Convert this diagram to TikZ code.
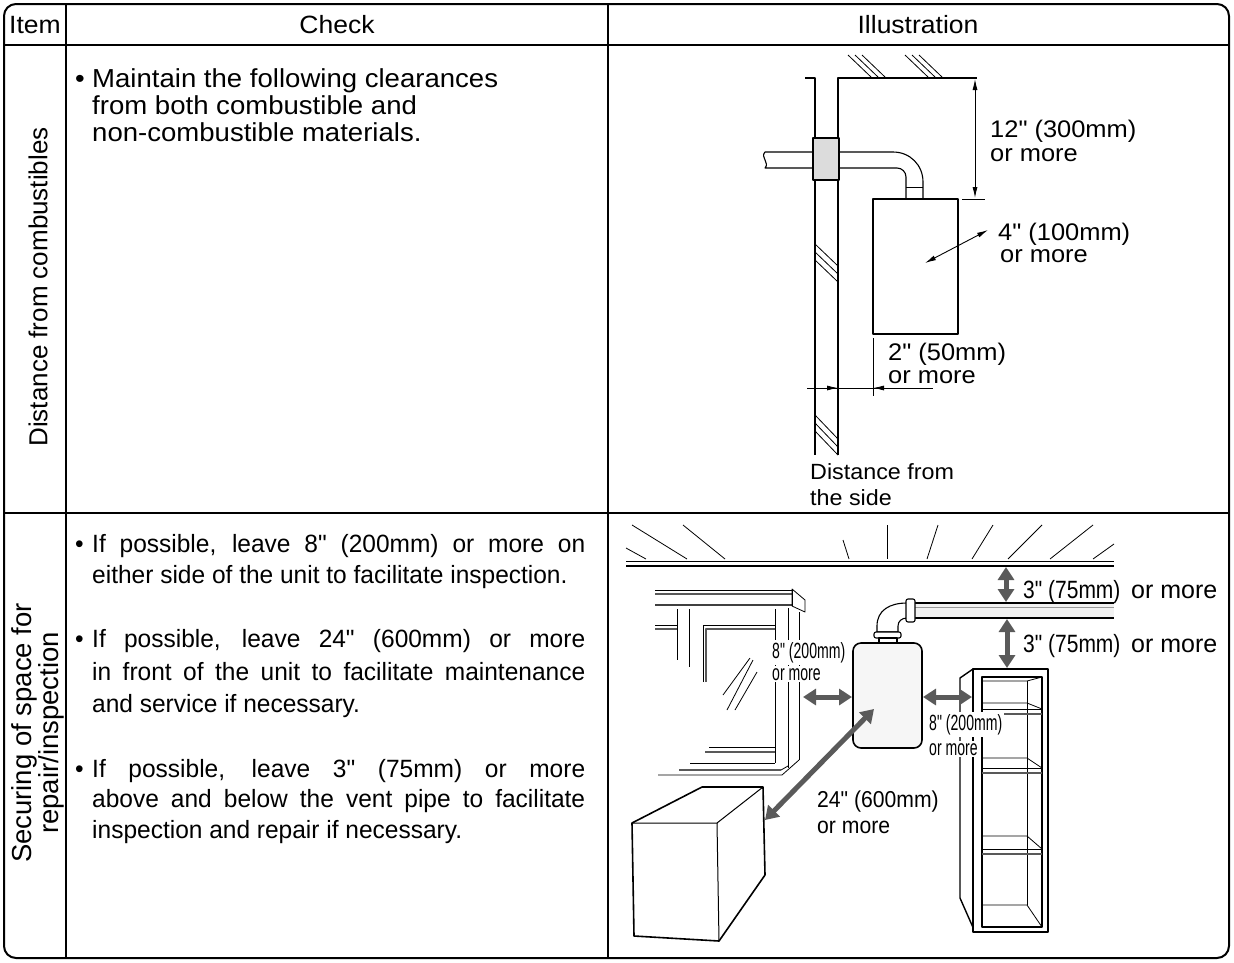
\documentclass[tikz,border=0pt]{standalone}
\usepackage{fontspec}
\newfontfamily\msans{Liberation Sans}[FakeStretch=1.06]
\newfontfamily\bsans{Liberation Sans}[FakeStretch=0.98]
\newfontfamily\plainsans{Liberation Sans}
\newfontfamily\fontA{Liberation Sans}[FakeStretch=0.64]
\newfontfamily\fontC{Liberation Sans}[FakeStretch=0.84]
\newfontfamily\fontD{Liberation Sans}[FakeStretch=0.92]
\usetikzlibrary{arrows.meta}
\definecolor{arrgray}{HTML}{5A5A5A}
\definecolor{collargray}{HTML}{DCDCDC}
\definecolor{heatfill}{HTML}{F6F6F6}
\begin{document}
\begin{tikzpicture}[x=1pt,y=-1pt,line join=round,
  ln/.style={line width=1.1pt},
  tn/.style={line width=0.8pt},
  gl/.style={line width=1.6pt, draw=black!65},
  lbl/.style={inner sep=0pt, anchor=base west},
  hdr/.style={inner sep=0pt, font=\msans\fontsize{25}{28}\selectfont},
  toptxt/.style={lbl, font=\msans\fontsize{26}{28}\selectfont},
  bottxt/.style={lbl, font=\bsans\fontsize{25}{28}\selectfont},
  illtxt/.style={lbl, font=\msans\fontsize{24}{26}\selectfont},
  thinarr/.style={line width=0.9pt, {Latex[length=11pt,width=5pt]}-{Latex[length=11pt,width=5pt]}},
  fatarr/.style={line width=5pt, draw=arrgray, {Triangle[length=13pt,width=16pt]}-{Triangle[length=13pt,width=16pt]}},
]
\useasboundingbox (0,0) rectangle (1234,962);
\fill[white] (0,0) rectangle (1234,962);

% ---------- table frame ----------
\draw[line width=2pt, rounded corners=12pt] (4,4) rectangle (1229,958);
\draw[line width=1.5pt] (4,45) -- (1229,45);
\draw[line width=1.5pt] (4,513) -- (1229,513);
\draw[line width=1.5pt] (66,4) -- (66,958);
\draw[line width=1.5pt] (608,4) -- (608,958);

% ---------- headers ----------
\node[hdr] (hitem) at (35,25) {Item};
\node[hdr] (hcheck) at (337,25) {Check};
\node[hdr] (hill) at (918,25) {Illustration};

% ---------- item labels ----------
\node[inner sep=0pt, rotate=90, font=\plainsans\fontsize{26}{28}\selectfont] (item1) at (38,287) {Distance from combustibles};
\node[inner sep=0pt, rotate=90, align=center, font=\plainsans\fontsize{27.5}{23}\selectfont] (item2) at (38,733) {Securing of space for\\repair/inspection};

% ---------- check text, row 1 ----------
\node[toptxt] (b1) at (75,87) {•};
\node[toptxt] (t1) at (92,87) {Maintain the following clearances};
\node[toptxt] (t2) at (92,114) {from both combustible and};
\node[toptxt] (t3) at (92,141) {non-combustible materials.};

% ---------- check text, row 2 ----------
\node[bottxt] (c1) at (75,552) {•};
\node[bottxt] (c1a) at (92,552) {\makebox[493pt][s]{If possible, leave 8" (200mm) or more on}};
\node[bottxt] (c1b) at (92,583) {either side of the unit to facilitate inspection.};
\node[bottxt] (c2) at (75,647) {•};
\node[bottxt] (c2a) at (92,647) {\makebox[493pt][s]{If possible, leave 24" (600mm) or more}};
\node[bottxt] (c2b) at (92,680) {\makebox[493pt][s]{in front of the unit to facilitate maintenance}};
\node[bottxt] (c2c) at (92,712) {and service if necessary.};
\node[bottxt] (c3) at (75,777) {•};
\node[bottxt] (c3a) at (92,777) {\makebox[493pt][s]{If possible, leave 3" (75mm) or more}};
\node[bottxt] (c3b) at (92,807) {\makebox[493pt][s]{above and below the vent pipe to facilitate}};
\node[bottxt] (c3c) at (92,838) {inspection and repair if necessary.};

% =========== top illustration ===========
\foreach \dx in {0,7,14}{
  \draw[tn] (848+\dx,55) -- (871+\dx,77);
  \draw[tn] (905+\dx,55) -- (928+\dx,77);
}
\draw[ln] (838,455) -- (838,78) -- (977,78);
\draw[ln] (805,78) -- (815,78) -- (815,455);
\foreach \dy in {0,8,16}{
  \draw[tn] (815,244+\dy) -- (838,266+\dy);
}
\begin{scope}
\clip (815,400) rectangle (838,455);
\foreach \dy in {0,8,16}{
  \draw[tn] (815,415+\dy) -- (838,439+\dy);
}
\end{scope}
\draw[ln] (813,152) -- (765,152) .. controls (760,157) and (770,163) .. (765,168) -- (813,168);
\draw[ln] (839,152) -- (893,152) .. controls (910,152) and (923,165) .. (923,182) -- (923,199);
\draw[ln] (839,168) -- (897,168) .. controls (902,168) and (906,172) .. (906,177) -- (906,199);
\draw[tn] (906,187) -- (923,187);
\draw[ln, fill=collargray] (813,138) rectangle (839,180);
\draw[ln, fill=white] (873,199) rectangle (958,334);
\draw[tn] (962,199) -- (985,199);
\coordinate (d12a) at (975,79);
\coordinate (d12b) at (975,198);
\draw[thinarr] (d12a) -- (d12b);
\node[illtxt] (l12a) at (990,137) {12" (300mm)};
\node[illtxt] (l12b) at (990,161) {or more};
\coordinate (d4a) at (925,263);
\coordinate (d4b) at (988,230);
\draw[thinarr] (d4a) -- (d4b);
\node[illtxt] (l4a) at (998,240) {4" (100mm)};
\node[illtxt] (l4b) at (1000,262) {or more};
\draw[tn] (873,338) -- (873,396);
\draw[tn] (807,388) -- (933,388);
\coordinate (d2l) at (838,388);
\coordinate (d2r) at (873,388);
\draw[tn, -{Latex[length=11pt,width=5pt]}] (824,388) -- (d2l);
\draw[tn, -{Latex[length=11pt,width=5pt]}] (887,388) -- (d2r);
\node[illtxt] (l2a) at (888,360) {2" (50mm)};
\node[illtxt] (l2b) at (888,383) {or more};
\node[lbl, font=\msans\fontsize{22}{26}\selectfont] (ds1) at (810,479) {Distance from};
\node[lbl, font=\msans\fontsize{22}{26}\selectfont] (ds2) at (810,505) {the side};

% =========== bottom illustration ===========
\draw[tn] (626,561) -- (1114,561);
\draw[line width=1.8pt] (626,566) -- (1114,566);
\foreach \a/\b/\c/\d in {632/525/687/559, 683/525/725/559, 626/548/646/559, 843/540/849/559,
   887/525/887/559, 938/525/927/559, 993/525/972/559, 1042/525/1008/559, 1093/525/1050/559, 1114/544/1093/559}{
  \draw[tn] (\a,\b) -- (\c,\d);
}
\draw[tn] (655,590) -- (792,590);
\draw[gl, line width=1.2pt] (655,594) -- (792,594);
\draw[line width=2pt, draw=black!75] (655,605) -- (792,605);
\draw[tn] (792,589) -- (805,600) -- (805,612) -- (792,606) -- cycle;
\draw[tn] (792,589) -- (792,606);
\draw[tn] (677,609) -- (677,660);
\draw[tn] (689,609) -- (689,667);
\draw[tn] (655,625) -- (677,625);
\draw[gl, line width=1.2pt] (655,629) -- (677,629);
\draw[tn] (703,682) -- (703,625) -- (775,625);
\draw[gl] (706,682) -- (706,629) -- (775,629);
\draw[tn] (775,609) -- (775,763);
\draw[tn] (788,608) -- (788,768);
\draw[tn] (799,612) -- (799,760);
\draw[tn] (709,747) -- (775,747);
\draw[gl] (705,752) -- (775,752);
\draw[tn] (690,763) -- (775,763);
\draw[gl] (679,770) -- (781,770);
\draw[tn] (658,775) -- (782,775) -- (799,760);
\draw[tn] (781,770) -- (788,766);
\draw[tn] (723,695) -- (750,658);
\draw[tn] (727,710) -- (753,660);
\draw[tn] (735,710) -- (757,672);
% cube
\draw[line width=1.6pt, fill=white] (632,823) -- (702,787) -- (763,787) -- (765,875) -- (719,941) -- (634,936) -- cycle;
\draw[line width=1pt] (632,823) -- (717,823) -- (763,787);
\draw[line width=1pt] (717,823) -- (719,941);
% cabinet
\draw[line width=1.4pt] (973,669) -- (960,678) -- (960,898) -- (975,932);
\draw[line width=1.8pt, fill=white] (973,669) rectangle (1048,932);
\draw[line width=1.2pt] (982,677) rectangle (1042,927);
\draw[tn] (1027,681) -- (1027,905);
\draw[tn] (983,681) -- (1027,681) -- (1042,677);
\foreach \yb/\yf in {703/709, 758/768, 836/849}{
  \draw[tn] (982,\yb) -- (1027,\yb) -- (1042,\yf);
  \draw[tn] (982,\yf) -- (1042,\yf);
  \draw[gl, line width=1.2pt] (982,\yf+5) -- (1042,\yf+5);
}
\draw[tn] (982,905) -- (1027,905) -- (1042,927);
% vent pipe
\fill[black!5] (915,603) rectangle (1114,618);
\draw[line width=2pt] (915,603) -- (1114,603);
\draw[line width=0.6pt, draw=black!40] (915,607) -- (1114,607);
\draw[line width=1.6pt] (915,618) -- (1114,618);
\draw[ln, fill=white] (907,603) .. controls (890,603) and (877,610) .. (877,626) -- (877,632) -- (898,632) -- (898,626) .. controls (898,621) and (902,618) .. (907,618) -- cycle;
\draw[ln, fill=white, rounded corners=2pt] (906,599) rectangle (915,622);
\draw[ln, fill=white, rounded corners=2pt] (874,632) rectangle (901,638);
\draw[ln, fill=white] (879,638) rectangle (897,643);
% heater
\draw[line width=1.6pt, fill=heatfill, rounded corners=8pt] (853,643) rectangle (922,748);
% labels
\node[lbl, fill=white, inner sep=2pt, font=\fontA\fontsize{22}{24}\selectfont] (l8l) at (770,658) {8" (200mm)};
\node[lbl, fill=white, inner sep=2pt, font=\fontA\fontsize{22}{24}\selectfont] (l8lb) at (770,680) {or more};
\node[lbl, fill=white, inner sep=2pt, font=\fontA\fontsize{22}{24}\selectfont] (l8r) at (927,730) {8" (200mm)};
\node[lbl, fill=white, inner sep=2pt, font=\fontA\fontsize{22}{24}\selectfont] (l8rb) at (927,755) {or more};
\node[lbl, font=\fontD\fontsize{23}{26}\selectfont] (l24a) at (817,807) {24" (600mm)};
\node[lbl, font=\fontD\fontsize{23}{26}\selectfont] (l24b) at (817,833) {or more};
\node[lbl, font=\fontC\fontsize{25}{26}\selectfont] (l3a) at (1023,598) {3" (75mm)};
\node[lbl, font=\plainsans\fontsize{25}{26}\selectfont] (l3ab) at (1131,598) {or more};
\node[lbl, font=\fontC\fontsize{25}{26}\selectfont] (l3b) at (1023,652) {3" (75mm)};
\node[lbl, font=\plainsans\fontsize{25}{26}\selectfont] (l3bb) at (1131,652) {or more};
% thick grey arrows
\coordinate (al1) at (803,697); \coordinate (al2) at (852,697);
\coordinate (ar1) at (923,697); \coordinate (ar2) at (972,697);
\coordinate (ad1) at (765,820); \coordinate (ad2) at (874,709);
\coordinate (au1) at (1006,567); \coordinate (au2) at (1006,602);
\coordinate (av1) at (1007,619); \coordinate (av2) at (1007,668);
\draw[fatarr] (al1) -- (al2);
\draw[fatarr] (ar1) -- (ar2);
\draw[fatarr] (ad1) -- (ad2);
\draw[fatarr] (au1) -- (au2);
\draw[fatarr] (av1) -- (av2);
\end{tikzpicture}
\end{document}
